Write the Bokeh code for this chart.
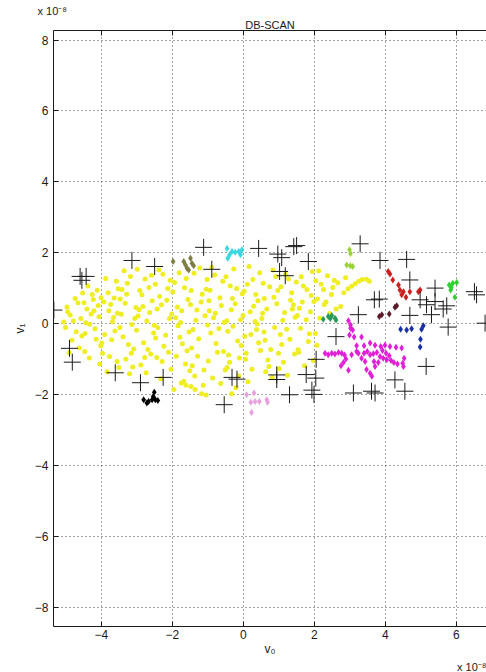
from bokeh.plotting import figure
from bokeh.models import FixedTicker, LinearAxis, Title, Range1d
from bokeh.embed import file_html
from bokeh.resources import INLINE

# ---- data (units of 1e-8) ----
x_ticks = [-4, -2, 0, 2, 4, 6]
y_ticks = [-8, -6, -4, -2, 0, 2, 4, 6, 8]
exponent_text = "x 10⁻⁸"
title_text = "DB-SCAN"

yellow_pts = [
    (-5.06, 0.04), (-4.71, -0.23), (-4.95, 0.33), (-4.58, 0.14), (-4.83, -0.47), (-4.66, 0.58),
    (-5.01, -0.11), (-4.53, 0.86), (-4.88, 0.24), (-4.62, -0.69), (-4.79, 0.07), (-4.97, 0.47),
    (-4.55, -0.35), (-4.74, 0.71), (-4.91, -0.82),
    (-4.23, 0.68), (-4.46, -0.28), (-4.07, 0.19), (-4.34, -0.97), (-4.12, 0.94), (-4.41, 0.41),
    (-4.18, -0.15), (-4.49, 0.59), (-4.02, -0.63), (-4.29, 0.27), (-4.38, 1.06), (-4.15, -0.44),
    (-4.44, 0.02), (-4.05, -1.14), (-4.26, 0.82), (-4.33, -0.02), (-4.09, 0.51), (-4.47, -0.79),
    (-4.21, 0.36), (-4.01, 0.73),
    (-3.71, -0.46), (-3.93, 0.61), (-3.58, 1.19), (-3.84, -1.36), (-3.66, 0.17), (-3.97, -0.84),
    (-3.53, 0.98), (-3.79, 0.36), (-3.62, -0.21), (-3.88, 1.27), (-3.56, -1.07), (-3.74, 0.54),
    (-3.99, -0.55), (-3.69, 0.05), (-3.81, 0.87), (-3.51, -1.24), (-3.91, -0.31), (-3.64, 0.72),
    (-3.77, -0.93), (-3.55, 0.29),
    (-3.27, 1.14), (-3.44, 0.26), (-3.09, -0.72), (-3.36, 1.49), (-3.14, -0.03), (-3.47, 0.69),
    (-3.21, -1.42), (-3.03, 0.45), (-3.39, -0.37), (-3.18, 1.33), (-3.31, -1.01), (-3.06, 0.14),
    (-3.42, 0.96), (-3.24, -0.59), (-3.12, -1.23), (-3.33, 0.57), (-3.01, -0.19), (-3.29, 0.83),
    (-3.16, -0.84), (-3.48, -0.11),
    (-2.77, 1.26), (-2.94, 0.39), (-2.61, -0.86), (-2.86, 0.81), (-2.53, -0.27), (-2.99, 1.53),
    (-2.72, 0.07), (-2.89, -1.17), (-2.57, 0.64), (-2.81, -0.54), (-2.66, 1.02), (-2.97, 0.21),
    (-2.74, -1.39), (-2.51, -0.05), (-2.92, 0.93), (-2.69, -0.73), (-2.83, 0.48), (-2.59, 1.36),
    (-2.78, -0.96), (-2.64, 0.31),
    (-2.27, 1.39), (-2.44, -0.96), (-2.08, 0.14), (-2.36, 0.76), (-2.19, -0.33), (-2.48, 1.11),
    (-2.04, -1.29), (-2.31, 0.53), (-2.41, -0.12), (-2.13, 0.99), (-2.24, -0.64), (-2.38, 1.51),
    (-2.02, 0.27), (-2.29, -1.07), (-2.47, -0.41), (-2.16, 0.66), (-2.33, -1.56), (-2.11, -0.81),
    (-2.43, 0.41), (-2.06, 1.22),
    (-1.77, 0.03), (-1.94, 1.16), (-1.59, -0.77), (-1.86, 0.47), (-1.68, -1.63), (-1.99, 0.89),
    (-1.53, -0.24), (-1.81, 1.43), (-1.63, -1.14), (-1.91, 0.16), (-1.72, -0.57), (-1.56, 0.68),
    (-1.96, -1.86), (-1.66, 1.01), (-1.84, -0.06), (-1.51, -1.33), (-1.74, 0.36), (-1.89, -0.92),
    (-1.61, 1.27), (-1.79, -0.39),
    (-1.23, 1.57), (-1.46, -0.69), (-1.08, 0.22), (-1.37, -1.48), (-1.16, 0.83), (-1.42, -0.17),
    (-1.02, 1.24), (-1.29, -0.92), (-1.49, 0.54), (-1.13, -1.74), (-1.34, 0.09), (-1.05, 0.97),
    (-1.26, -0.43), (-1.44, -1.19), (-1.19, 0.61), (-1.39, 1.42), (-1.01, -0.04), (-1.31, 0.38),
    (-1.11, -1.31), (-1.47, 0.93),
    (-0.73, -0.81), (-0.96, 0.36), (-0.58, 1.19), (-0.87, -1.54), (-0.66, 0.73), (-0.92, -0.27),
    (-0.54, 0.03), (-0.81, 1.37), (-0.99, -1.06), (-0.62, 0.51), (-0.77, -0.56), (-0.94, 0.94),
    (-0.51, -1.31), (-0.84, 0.16), (-0.69, -0.14), (-0.89, 1.59), (-0.56, -0.79), (-0.79, 0.29),
    (-0.64, -1.69), (-0.97, 0.64),
    (-0.23, 0.56), (-0.46, -1.24), (-0.08, 0.11), (-0.37, 1.06), (-0.16, -0.49), (-0.42, -0.89),
    (-0.03, 0.84), (-0.29, -0.08), (-0.49, 1.32), (-0.13, -1.47), (-0.34, 0.39), (-0.06, -0.62),
    (-0.27, 1.54), (-0.44, -0.22), (-0.19, 0.99), (-0.39, -1.09), (-0.01, 0.23), (-0.31, 0.71),
    (-0.11, -0.97), (-0.47, 0.08),
    (0.27, 1.24), (0.04, -0.36), (0.41, 0.64), (0.13, -1.64), (0.33, 0.06), (0.08, -0.84),
    (0.46, 1.43), (0.19, 0.33), (0.37, -0.17), (0.02, 0.91), (0.24, -1.29), (0.43, -0.54),
    (0.11, 1.11), (0.29, 0.49), (0.06, -1.01), (0.39, -0.01), (0.16, 1.61), (0.48, -0.76),
    (0.21, -0.31), (0.35, 0.82),
    (0.77, -0.73), (0.54, 0.29), (0.91, 1.33), (0.63, -1.36), (0.86, 0.74), (0.58, -0.24),
    (0.97, 0.93), (0.69, -1.03), (0.52, 0.14), (0.83, 1.51), (0.61, -0.47), (0.94, 0.56),
    (0.72, -1.21), (0.56, 1.14), (0.88, -0.11), (0.66, 0.41), (0.99, -0.84), (0.74, 1.04),
    (0.81, -1.52), (0.59, 0.71),
    (1.27, 1.26), (1.04, -0.31), (1.41, 0.53), (1.13, -1.09), (1.36, 0.87), (1.08, -0.59),
    (1.46, 0.18), (1.19, 1.39), (1.01, -1.27), (1.33, 0.66), (1.22, -0.16), (1.06, 1.04),
    (1.44, -0.86), (1.16, 0.31), (1.31, -0.44), (1.49, 1.17), (1.24, -1.46), (1.11, 0.09),
    (1.38, 0.41),
    (1.77, 0.11), (1.54, -0.74), (1.91, 0.79), (1.63, 1.32), (1.86, -0.29), (1.58, 0.43),
    (1.97, -1.04), (1.69, 1.06), (1.52, 0.23), (1.83, -0.51), (1.66, 0.61), (1.94, 1.47),
    (1.61, -0.13), (1.79, 0.96), (1.56, -0.81), (1.89, 0.33), (1.72, -1.19), (1.99, 0.62),
    (2.04, 1.21), (2.28, 0.54), (2.12, 1.48), (2.48, 0.82), (2.19, 1.11), (2.61, 0.41),
    (2.37, 1.35), (2.09, 0.69), (2.52, 1.02), (2.74, 0.48), (2.26, 0.96), (2.83, 0.87),
    (2.66, 1.15), (2.88, 1.29), (2.43, 0.28), (2.15, 0.15), (2.03, -0.28), (2.07, -0.61),
    (2.33, 0.61), (2.56, 1.22),
    (3.05, 1.05), (3.15, 1.12), (3.25, 1.19), (3.35, 1.24), (3.47, 1.25), (3.55, 1.19), (2.95, 0.98),
    (-1.75, -1.68), (-1.62, -1.74), (-1.48, -1.78), (-1.36, -1.86), (-1.18, -1.98), (-1.05, -2.02),
    (-0.33, -1.98), (-0.21, -1.81),
]

black_pts = [(-2.81, -2.15), (-2.67, -2.20), (-2.57, -2.15), (-2.51, -1.94), (-2.48, -2.15),
             (-2.41, -2.17), (-2.72, -2.24), (-2.54, -2.06)]
olive_pts = [(-1.98, 1.75), (-1.68, 1.75), (-1.63, 1.65), (-1.59, 1.56), (-1.49, 1.84),
             (-1.45, 1.70), (-1.54, 1.51), (-1.40, 1.63)]
cyan_pts = [(-0.46, 2.12), (-0.39, 1.94), (-0.32, 2.03), (-0.23, 2.01), (-0.13, 2.03),
            (-0.08, 1.94), (-0.04, 2.08), (-0.44, 1.84)]
lime_pts = [(2.99, 2.08), (3.02, 1.98), (2.91, 1.65), (3.01, 1.63), (3.08, 1.61)]
teal_pts = [(2.25, 0.12), (2.39, 0.20), (2.49, 0.23), (2.58, 0.15), (2.61, 0.10), (2.45, 0.14)]
green_pts = [(5.80, 1.09), (5.90, 1.14), (6.01, 1.16), (5.84, 0.95), (5.96, 0.74), (5.86, 1.02)]
red_pts = [(4.08, 1.47), (4.13, 1.40), (4.21, 1.23), (4.37, 1.09), (4.41, 0.95), (4.51, 0.90),
           (4.58, 0.74), (4.69, 0.90), (4.93, 0.90), (4.98, 0.95), (4.46, 0.81)]
maroon_pts = [(3.83, 0.20), (3.90, 0.25), (4.11, 0.27), (4.27, 0.46), (4.32, 0.50)]
blue_pts = [(4.43, -0.16), (4.60, -0.18), (4.74, -0.15), (5.02, -0.16), (5.07, -0.06),
            (4.99, -0.44), (4.98, -0.66)]
magenta_pts = [
    (2.96, 0.08), (3.02, -0.13), (2.99, -0.32), (3.12, -0.38), (3.33, -0.38), (3.19, -0.63),
    (3.40, -0.63), (3.57, -0.55), (3.71, -0.61), (3.87, -0.65), (3.99, -0.61), (4.13, -0.65),
    (4.30, -0.67), (4.46, -0.69), (2.30, -0.84), (2.39, -0.88), (2.49, -0.84), (2.58, -0.86),
    (2.68, -0.82), (2.77, -0.84), (2.85, -0.89), (2.89, -1.00), (2.82, -1.10), (2.75, -1.19),
    (2.96, -1.32), (3.05, -0.88), (3.24, -0.84), (3.40, -0.84), (3.49, -0.79), (3.57, -0.88),
    (3.66, -0.85), (3.76, -0.82), (3.85, -0.93), (3.92, -0.76), (4.02, -0.84), (4.11, -0.91),
    (4.16, -1.04), (4.24, -1.10), (4.34, -1.14), (4.49, -1.12), (4.53, -0.98), (3.47, -1.30),
    (3.57, -1.40), (3.62, -1.49), (3.71, -1.21), (3.80, -1.10), (3.68, -1.07), (3.33, -0.98),
    (3.43, -1.07), (3.19, -0.79), (3.08, -0.18), (3.02, -0.04), (4.51, -1.21), (4.04, -1.02),
    (3.94, -0.98),
]
pink_pts = [(0.09, -2.01), (0.21, -2.22), (0.33, -2.20), (0.45, -2.20), (0.66, -2.15),
            (0.68, -2.22), (0.23, -2.51), (0.30, -1.96)]

noise_pts = [
    (-1.12, 2.15), (-3.14, 1.78), (-2.50, 1.61), (-0.89, 1.53), (-4.60, 1.33), (-4.43, 1.33),
    (-4.55, 1.22), (-5.34, 0.38), (-4.90, -0.70), (-4.82, -1.09), (-3.61, -1.39), (-2.26, -1.52),
    (-2.90, -1.67), (-0.32, -1.52), (-0.18, -1.57), (-0.54, -2.29), (0.43, 2.12), (0.97, 1.96),
    (1.08, 1.86), (1.42, 2.17), (1.50, 2.20), (1.83, 1.75), (1.02, 1.47), (1.18, 1.35),
    (3.29, 2.25), (3.85, 1.78), (4.60, 1.81), (4.69, 1.23), (3.83, 0.69), (3.69, 0.67),
    (3.24, 0.25), (5.40, 1.00), (4.98, 0.67), (5.16, 0.53), (4.69, 0.23), (5.30, 0.25),
    (5.63, 0.41), (5.40, 0.62), (5.73, 0.50), (5.77, -0.10), (6.51, 0.90), (6.57, 0.81),
    (6.81, 0.01), (2.61, -0.37), (2.05, -1.01), (0.94, -1.45), (0.94, -1.58), (1.77, -1.44),
    (2.04, -1.54), (1.93, -1.88), (1.99, -2.00), (1.30, -2.01), (3.10, -1.96), (3.61, -1.91),
    (3.71, -1.96), (4.27, -1.59), (4.55, -1.91), (5.15, -1.21),
]

clusters = [
    (yellow_pts, "#eeee22"), (black_pts, "#000000"), (olive_pts, "#7d7d45"),
    (cyan_pts, "#38d8e0"), (lime_pts, "#9ad23a"), (teal_pts, "#2a9a5a"),
    (green_pts, "#30d030"), (red_pts, "#cc2020"), (maroon_pts, "#5a1a28"),
    (blue_pts, "#1a30a8"), (magenta_pts, "#e020d8"), (pink_pts, "#e8a0e0"),
]

FONT = "Liberation Sans"
TXT = "#1a1a1a"

p = figure(width=486, height=672, output_backend="svg", toolbar_location=None,
           x_range=Range1d(-5.35, 6.85), y_range=Range1d(-8.55, 8.27),
           min_border_left=53, min_border_right=0, min_border_top=30, min_border_bottom=45)
p.title = None
p.outline_line_color = None
p.background_fill_color = "white"
p.border_fill_color = "white"

for pts, col in clusters:
    xs = [a for a, b in pts]
    ys = [b for a, b in pts]
    if col == "#eeee22":
        p.scatter(xs, ys, marker="circle", size=5, fill_color=col, line_color=None)
    else:
        p.scatter(xs, ys, marker="diamond", size=7, fill_color=col, line_color=None)

p.scatter([a for a, b in noise_pts], [b for a, b in noise_pts], marker="cross",
          size=17, line_color="#1a1a1a", line_width=1)

for ax in p.xaxis + p.yaxis:
    ax.major_tick_in = 5
    ax.major_tick_out = 0
    ax.minor_tick_in = 0
    ax.minor_tick_out = 0
    ax.axis_line_color = TXT
    ax.major_tick_line_color = TXT
    ax.major_label_text_font = FONT
    ax.major_label_text_font_size = "12px"
    ax.major_label_text_color = TXT
    ax.axis_label_text_font = FONT
    ax.axis_label_text_font_size = "12px"
    ax.axis_label_text_font_style = "normal"
    ax.axis_label_text_color = TXT

p.xaxis.ticker = FixedTicker(ticks=x_ticks)
p.yaxis.ticker = FixedTicker(ticks=y_ticks)
p.xaxis.axis_label = "v₀"
p.yaxis.axis_label = "v₁"
p.xaxis.major_label_standoff = 3
p.xaxis.axis_label_standoff = 0
p.yaxis.major_label_standoff = 5

top = LinearAxis(ticker=FixedTicker(ticks=x_ticks),
                 major_label_overrides={t: "" for t in x_ticks},
                 major_label_standoff=0,
                 major_tick_in=5, major_tick_out=0, minor_tick_in=0, minor_tick_out=0,
                 axis_line_color=TXT, major_tick_line_color=TXT)
p.add_layout(top, "above")

p.add_layout(Title(text=title_text, align="center", standoff=0,
                   text_font=FONT, text_font_size="11px", text_font_style="normal",
                   text_color=TXT), "above")
# exponent markers, as MATLAB draws them beside the axes
p.add_layout(Title(text=exponent_text, align="left", offset=-16, standoff=0,
                   text_font=FONT, text_font_size="11px", text_font_style="normal",
                   text_color=TXT), "above")
p.add_layout(Title(text=exponent_text, align="right", offset=0, standoff=0,
                   text_font=FONT, text_font_size="11px", text_font_style="normal",
                   text_color=TXT), "below")

p.xgrid.ticker = FixedTicker(ticks=x_ticks)
p.ygrid.ticker = FixedTicker(ticks=y_ticks)
for g in (p.xgrid, p.ygrid):
    g.grid_line_color = "#333333"
    g.grid_line_dash = "1 3"
    g.grid_line_alpha = 0.9

open("out.html", "w").write(file_html(p, INLINE))
